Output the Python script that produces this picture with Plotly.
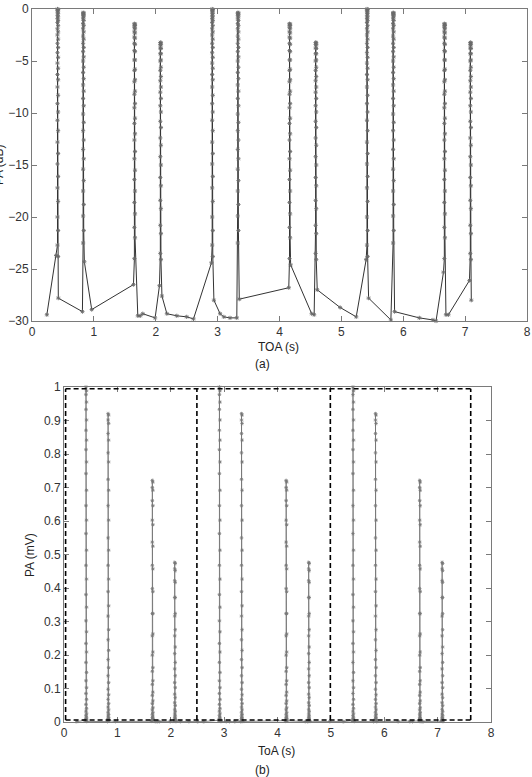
import plotly.graph_objects as go

# ---------------- data ----------------
# time of arrival of the 12 beam illuminations (rising / falling side of each scan)
PULSE_RISE_TOA = [0.412, 0.826, 1.655, 2.074, 2.912, 3.326, 4.162, 4.584, 5.414, 5.836, 6.664, 7.084]
PULSE_FALL_TOA = [0.422, 0.836, 1.665, 2.084, 2.922, 3.336, 4.172, 4.594, 5.424, 5.846, 6.674, 7.094]
PULSE_TYPE = [0, 1, 2, 3, 0, 1, 2, 3, 0, 1, 2, 3]

# pulse amplitude samples (dB) on the rising and falling side of each scan type
RISE_DB_A = [-22.7, -20.0, -17.2, -14.9, -12.8, -10.7, -9.1, -7.5, -6.3, -5.2, -4.2, -3.3,
             -2.5, -1.9, -1.3, -0.9, -0.6, -0.3, -0.1, 0.0]
FALL_DB_A = [-0.05, -0.2, -0.45, -0.75, -1.1, -1.6, -2.2, -2.9, -3.7, -4.65, -5.7, -6.8,
             -8.3, -9.9, -11.7, -13.9, -16.1, -18.5, -21.3, -23.8]
RISE_DB_B = [-22.5, -19.9, -17.5, -15.4, -13.5, -11.7, -10.1, -8.6, -7.3, -6.1, -5.0, -4.1,
             -3.3, -2.6, -1.9, -1.4, -0.95, -0.65, -0.45, -0.36]
FALL_DB_B = [-0.38, -0.5, -0.75, -1.1, -1.6, -2.2, -2.9, -3.7, -4.6, -5.6, -6.7, -7.9,
             -9.3, -10.9, -12.6, -14.4, -16.5, -18.8, -21.3]
RISE_DB_C = [-24.0, -21.0, -18.6, -16.4, -14.4, -12.6, -11.0, -9.5, -8.2, -7.0, -5.9, -4.9,
             -4.0, -3.3, -2.7, -2.2, -1.8, -1.55, -1.42]
FALL_DB_C = [-1.45, -1.6, -1.9, -2.3, -2.8, -3.4, -4.1, -4.9, -5.8, -6.8, -7.9, -9.1,
             -10.5, -12.0, -13.7, -15.5, -17.5, -19.7, -22.0]
RISE_DB_D = [-23.5, -20.8, -18.4, -16.2, -14.2, -12.4, -10.8, -9.3, -8.0, -6.9, -5.9,
             -5.0, -4.3, -3.75, -3.4, -3.22]
FALL_DB_D = [-3.25, -3.45, -3.8, -4.3, -4.9, -5.6, -6.5, -7.5, -8.6, -9.9, -11.4, -13.1,
             -15.0, -17.0, -19.2, -21.6, -24.1]
RISE_DB = [RISE_DB_A, RISE_DB_B, RISE_DB_C, RISE_DB_D]
FALL_DB = [FALL_DB_A, FALL_DB_B, FALL_DB_C, FALL_DB_D]

# low-level samples between illuminations (before pulse 1, then after each pulse)
GAP_TOA = [
    [0.24, 0.39],
    [0.425, 0.815],
    [0.846, 0.965, 1.64],
    [1.71, 1.75, 1.79, 1.99, 2.06],
    [2.10, 2.18, 2.34, 2.50, 2.61, 2.90],
    [2.94, 3.04, 3.10, 3.20, 3.31],
    [3.35, 4.15],
    [4.18, 4.52, 4.56],
    [4.61, 4.98, 5.24, 5.40],
    [5.44, 5.80],
    [5.86, 6.26, 6.48, 6.53, 6.65],
    [6.69, 6.73, 7.07],
    [7.10],
]
GAP_DB = [
    [-29.4, -23.7],
    [-27.8, -29.1],
    [-24.3, -28.9, -26.5],
    [-29.5, -29.5, -29.3, -29.7, -26.6],
    [-27.6, -29.3, -29.5, -29.6, -29.8, -24.4],
    [-28.0, -29.3, -29.6, -29.7, -29.7],
    [-27.9, -26.8],
    [-24.6, -29.3, -29.4],
    [-27.0, -28.7, -29.6, -24.1],
    [-27.8, -29.9],
    [-29.1, -29.7, -29.9, -30.0, -25.3],
    [-29.4, -29.4, -26.1],
    [-28.0],
]

# deinterleaving windows drawn on panel (b)
WINDOW_EDGES = [0.03, 2.49, 4.99, 7.62]
WINDOW_LOW, WINDOW_HIGH = 0.006, 0.995

X_TICKS = [0, 1, 2, 3, 4, 5, 6, 7, 8]
DB_TICKS = [0, -5, -10, -15, -20, -25, -30]
MV_TICKS = [0, 0.1, 0.2, 0.3, 0.4, 0.5, 0.6, 0.7, 0.8, 0.9, 1]
MV_TICK_TEXT = ["0", "0.1", "0.2", "0.3", "0.4", "0.5", "0.6", "0.7", "0.8", "0.9", "1"]

# ---------------- build the sample sequence ----------------
toa, pa_db = [], []
toa += GAP_TOA[0]
pa_db += GAP_DB[0]
for i, t in enumerate(PULSE_TYPE):
    r = RISE_DB[t]
    f = FALL_DB[t]
    toa += [PULSE_RISE_TOA[i]] * len(r)
    pa_db += r
    toa += [PULSE_FALL_TOA[i]] * len(f)
    pa_db += f
    toa += GAP_TOA[i + 1]
    pa_db += GAP_DB[i + 1]

# same samples on a linear scale (PA in dB = 10*log10(PA in mV))
pa_mv = [10 ** (v / 10.0) for v in pa_db]

W, H = 532, 777


def px(x):
    return x / W


def py(y):
    return 1 - y / H


FONT = "Liberation Sans, Arial, sans-serif"
AXCOL = "#7a7a7a"

fig = go.Figure()
fig.add_trace(go.Scatter(
    x=toa, y=pa_db, mode="lines+markers", xaxis="x", yaxis="y",
    line=dict(color="#333333", width=1),
    marker=dict(symbol="asterisk-open", size=3.5, color="#6a6a6a",
                line=dict(color="#6a6a6a", width=0.9)),
    cliponaxis=False, showlegend=False))
fig.add_trace(go.Scatter(
    x=toa, y=pa_mv, mode="lines+markers", xaxis="x2", yaxis="y2",
    line=dict(color="#707070", width=0.8),
    marker=dict(symbol="asterisk-open", size=3, color="#777777",
                line=dict(color="#777777", width=0.8)),
    cliponaxis=False, showlegend=False))

dash_line = dict(color="black", width=1.6, dash="5px,3px")
for yv in (WINDOW_LOW, WINDOW_HIGH):
    fig.add_shape(type="line", xref="x2", yref="y2", x0=WINDOW_EDGES[0], x1=WINDOW_EDGES[-1],
                  y0=yv, y1=yv, layer="above", line=dash_line)
for xv in WINDOW_EDGES:
    fig.add_shape(type="line", xref="x2", yref="y2", x0=xv, x1=xv,
                  y0=WINDOW_LOW, y1=WINDOW_HIGH, layer="above", line=dash_line)

axis_common = dict(showline=True, linecolor=AXCOL, linewidth=1, mirror="ticks",
                   ticks="inside", ticklen=5, tickcolor=AXCOL, showgrid=False,
                   zeroline=False, tickfont=dict(family=FONT, size=12, color="#333333"),
                   automargin=False, fixedrange=True)

fig.update_layout(
    width=W, height=H,
    margin=dict(l=0, r=0, t=0, b=0, pad=0),
    paper_bgcolor="white", plot_bgcolor="white",
    xaxis=dict(domain=[px(32), px(527)], range=[0, 8], tickvals=X_TICKS,
               anchor="y", **axis_common),
    yaxis=dict(domain=[py(321), py(9)], range=[-30, 0], tickvals=DB_TICKS,
               anchor="x", **axis_common),
    xaxis2=dict(domain=[px(64), px(491)], range=[0, 8], tickvals=X_TICKS,
                anchor="y2", **axis_common),
    yaxis2=dict(domain=[py(722), py(387)], range=[0, 1], tickvals=MV_TICKS,
                ticktext=MV_TICK_TEXT, anchor="x2", **axis_common),
)

lab = dict(family=FONT, size=12, color="#222222")
anns = [
    dict(x=px(-1), y=py(165), text="PA (dB)", textangle=-90),
    dict(x=px(278), y=py(347), text="TOA (s)"),
    dict(x=px(262), y=py(364), text="(a)"),
    dict(x=px(30), y=py(555), text="PA (mV)", textangle=-90),
    dict(x=px(276), y=py(751), text="ToA (s)"),
    dict(x=px(262), y=py(770), text="(b)"),
]
for a in anns:
    fig.add_annotation(xref="paper", yref="paper", showarrow=False,
                       xanchor="center", yanchor="middle", font=lab, **a)

fig.write_html("out.html")
